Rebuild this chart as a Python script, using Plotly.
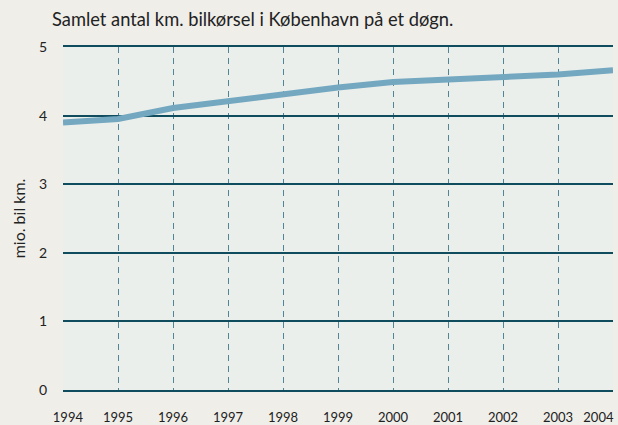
import plotly.graph_objects as go

years = [1994, 1995, 1996, 1997, 1998, 1999, 2000, 2001, 2002, 2003, 2004]
km_mio = [3.90, 3.95, 4.11, 4.21, 4.32, 4.41, 4.49, 4.53, 4.55, 4.60, 4.66]

title_text = "Samlet antal km. bilkørsel i København på et døgn."
y_title = "mio. bil km."
y_ticks = [0, 1, 2, 3, 4, 5]

font_family = "Lato, 'Open Sans', sans-serif"

# pad the outermost year labels so they stay inside the frame like the original
x_labels = [str(y) for y in years]
x_labels[0] = "\u2003" + x_labels[0]
x_labels[-1] = x_labels[-1] + "\u2003\u2003\u2003"

fig = go.Figure()
fig.add_trace(go.Scatter(
    x=years, y=km_mio, mode="lines",
    line=dict(color="#74a8c0", width=6),
    hoverinfo="x+y", showlegend=False,
))

fig.update_layout(
    width=618, height=425,
    margin=dict(l=63, r=5, t=47, b=35, autoexpand=False),
    paper_bgcolor="#efeee9",
    plot_bgcolor="#ebefec",
    font=dict(family=font_family, color="#222222", size=13),
    title=dict(
        text=title_text, xref="container", yref="container",
        x=52 / 618, xanchor="left", y=1 - 20 / 425, yanchor="middle",
        font=dict(size=18.3, color="#222222", family=font_family),
    ),
)

fig.update_xaxes(
    range=[1994, 2004],
    tickvals=years, ticktext=x_labels,
    showgrid=True, gridcolor="#4f8597", gridwidth=1, griddash="6px,5px",
    showline=True, linecolor="#0f4c5e", linewidth=1.5, mirror=True,
    ticks="", ticklen=0, zeroline=False, automargin=False,
    ticklabelstandoff=15, ticklabeloverflow="allow",
    tickfont=dict(size=13, color="#222222"),
)
fig.update_yaxes(
    range=[0, 5],
    tickvals=y_ticks, ticktext=[str(v) for v in y_ticks],
    showgrid=True, gridcolor="#0f4c5e", gridwidth=1.5,
    showline=False, zeroline=False, ticks="", ticklen=0, automargin=False,
    ticklabelstandoff=15,
    tickfont=dict(size=14, color="#222222"),
    title=dict(text=y_title, font=dict(size=16, color="#222222"), standoff=9),
)

fig.write_html(
    "out.html",
    config={"displayModeBar": False},
    post_script="document.body.style.margin='0';document.body.style.overflow='hidden';",
)
